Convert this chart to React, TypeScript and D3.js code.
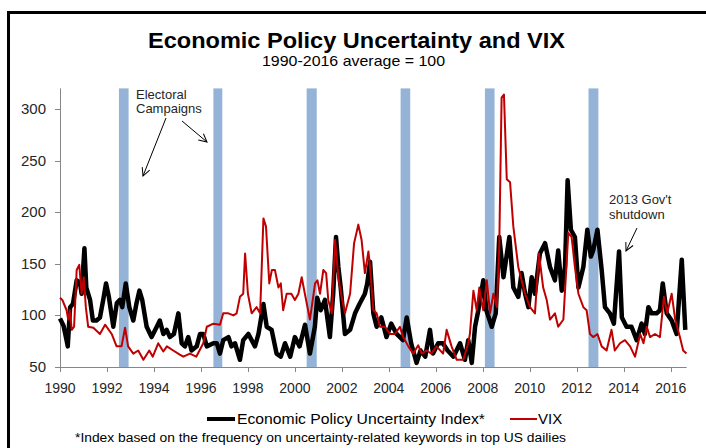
import * as d3 from 'd3';

// axis ticks
const yTicks = [50, 100, 150, 200, 250, 300];
const xTickYears = [1990, 1992, 1994, 1996, 1998, 2000, 2002, 2004, 2006, 2008, 2010, 2012, 2014, 2016];

// electoral campaign shading (start, end as fractional years)
const campaigns: [number, number][] = [
  [1992.51, 1992.92],
  [1996.53, 1996.91],
  [2000.5, 2000.93],
  [2004.5, 2004.91],
  [2008.09, 2008.5],
  [2012.5, 2012.92],
];

// Economic Policy Uncertainty index
const epuPoints: [number, number][] = [
  [1990.0, 97], [1990.15, 90], [1990.28, 76], [1990.33, 70], [1990.43, 108], [1990.55, 111],
  [1990.71, 134], [1990.85, 132], [1990.92, 121], [1991.04, 165], [1991.12, 127], [1991.28, 115],
  [1991.4, 95], [1991.55, 95], [1991.7, 98], [1991.84, 115], [1991.96, 131], [1992.08, 118],
  [1992.27, 89], [1992.42, 112], [1992.55, 115], [1992.65, 108], [1992.8, 131], [1992.95, 108],
  [1993.12, 95], [1993.25, 111], [1993.38, 124], [1993.5, 115], [1993.69, 89], [1993.9, 79],
  [1994.12, 89], [1994.25, 95], [1994.4, 82], [1994.54, 86], [1994.68, 79], [1994.85, 82],
  [1995.04, 102], [1995.18, 73], [1995.32, 70], [1995.46, 79], [1995.6, 66], [1995.82, 70],
  [1995.96, 82], [1996.1, 82], [1996.25, 70], [1996.53, 73], [1996.68, 73], [1996.81, 63],
  [1996.95, 76], [1997.17, 79], [1997.3, 70], [1997.45, 73], [1997.66, 57], [1997.8, 76],
  [1998.02, 82], [1998.3, 70], [1998.45, 82], [1998.66, 111], [1998.8, 89], [1999.01, 86],
  [1999.22, 63], [1999.4, 60], [1999.58, 73], [1999.8, 60], [2000.0, 79], [2000.2, 70],
  [2000.43, 91], [2000.64, 63], [2000.85, 89], [2000.95, 117], [2001.1, 105], [2001.28, 115],
  [2001.49, 79], [2001.63, 121], [2001.75, 176], [2001.85, 147], [2001.95, 127], [2002.13, 82],
  [2002.35, 86], [2002.56, 102], [2002.75, 111], [2002.98, 121], [2003.08, 131], [2003.2, 152],
  [2003.34, 102], [2003.48, 89], [2003.68, 98], [2003.9, 79], [2004.1, 92], [2004.33, 82],
  [2004.6, 76], [2004.76, 98], [2004.95, 73], [2005.18, 54], [2005.35, 66], [2005.55, 60],
  [2005.75, 86], [2005.88, 63], [2006.1, 73], [2006.3, 73], [2006.5, 66], [2006.75, 60],
  [2007.03, 73], [2007.24, 57], [2007.38, 76], [2007.53, 54], [2007.67, 89], [2007.81, 105],
  [2008.02, 134], [2008.15, 105], [2008.38, 89], [2008.55, 102], [2008.7, 176], [2008.88, 137],
  [2009.13, 176], [2009.3, 127], [2009.51, 118], [2009.65, 141], [2009.8, 121], [2009.94, 108],
  [2010.08, 137], [2010.22, 121], [2010.43, 160], [2010.65, 170], [2010.86, 147], [2011.07, 134],
  [2011.21, 163], [2011.36, 124], [2011.5, 147], [2011.61, 231], [2011.75, 183], [2011.92, 176],
  [2012.07, 127], [2012.28, 147], [2012.45, 183], [2012.6, 157], [2012.7, 163], [2012.88, 183],
  [2013.06, 144], [2013.2, 108], [2013.41, 102], [2013.58, 92], [2013.8, 162], [2013.92, 98],
  [2014.12, 89], [2014.33, 89], [2014.55, 76], [2014.76, 92], [2014.9, 82], [2015.05, 108],
  [2015.19, 102], [2015.4, 102], [2015.54, 105], [2015.66, 131], [2015.83, 102], [2016.04, 95],
  [2016.25, 82], [2016.47, 154], [2016.62, 86],
];

// VIX, rescaled so the 1990-2016 average = 100
const vixPoints: [number, number][] = [
  [1990.0, 117], [1990.1, 115], [1990.28, 105], [1990.35, 96], [1990.42, 105], [1990.5, 86],
  [1990.6, 89], [1990.71, 144], [1990.82, 149], [1990.92, 121], [1991.01, 137], [1991.1, 108],
  [1991.2, 89], [1991.42, 88], [1991.7, 82], [1991.92, 91], [1992.2, 82], [1992.41, 70],
  [1992.62, 70], [1992.77, 88], [1992.9, 70], [1993.12, 63], [1993.33, 66], [1993.55, 57],
  [1993.8, 66], [1993.95, 60], [1994.18, 73], [1994.4, 65], [1994.55, 70], [1994.82, 66],
  [1995.1, 62], [1995.25, 60], [1995.53, 63], [1995.8, 60], [1996.1, 73], [1996.25, 89],
  [1996.53, 92], [1996.81, 91], [1996.95, 102], [1997.17, 102], [1997.38, 100], [1997.52, 102],
  [1997.66, 118], [1997.8, 121], [1997.88, 160], [1998.0, 121], [1998.16, 102], [1998.37, 108],
  [1998.52, 102], [1998.66, 194], [1998.77, 186], [1998.91, 131], [1999.02, 144], [1999.15, 144],
  [1999.3, 127], [1999.4, 131], [1999.5, 105], [1999.65, 121], [1999.85, 121], [2000.0, 115],
  [2000.15, 121], [2000.29, 137], [2000.45, 118], [2000.64, 96], [2000.86, 131], [2000.96, 134],
  [2001.07, 121], [2001.21, 144], [2001.33, 141], [2001.42, 115], [2001.57, 102], [2001.71, 173],
  [2001.85, 137], [2001.99, 118], [2002.13, 102], [2002.35, 121], [2002.52, 170], [2002.7, 188],
  [2002.84, 173], [2002.98, 141], [2003.13, 162], [2003.2, 147], [2003.34, 105], [2003.48, 102],
  [2003.62, 89], [2003.83, 89], [2004.05, 82], [2004.26, 82], [2004.47, 89], [2004.61, 79],
  [2004.83, 70], [2005.04, 63], [2005.25, 71], [2005.4, 63], [2005.6, 66], [2005.81, 63],
  [2006.03, 70], [2006.31, 63], [2006.46, 86], [2006.67, 70], [2006.89, 57], [2007.17, 57],
  [2007.38, 73], [2007.45, 82], [2007.6, 124], [2007.74, 105], [2007.85, 127], [2008.02, 105],
  [2008.17, 134], [2008.31, 102], [2008.45, 121], [2008.6, 108], [2008.7, 167], [2008.8, 311],
  [2008.9, 314], [2009.02, 232], [2009.16, 229], [2009.3, 186], [2009.51, 147], [2009.65, 134],
  [2009.8, 121], [2010.01, 108], [2010.22, 102], [2010.39, 160], [2010.57, 127], [2010.72, 115],
  [2010.86, 96], [2011.07, 102], [2011.21, 89], [2011.43, 96], [2011.64, 180], [2011.78, 176],
  [2011.92, 147], [2012.07, 121], [2012.28, 108], [2012.42, 105], [2012.56, 82], [2012.7, 79],
  [2012.88, 82], [2013.06, 70], [2013.27, 66], [2013.48, 86], [2013.62, 66], [2013.84, 73],
  [2014.05, 76], [2014.27, 70], [2014.48, 60], [2014.7, 82], [2014.84, 73], [2014.98, 89],
  [2015.12, 79], [2015.33, 82], [2015.54, 79], [2015.71, 118], [2015.85, 102], [2016.04, 121],
  [2016.19, 96], [2016.39, 79], [2016.53, 66], [2016.67, 63],
];

const FONT = '"Liberation Sans", Arial, sans-serif';

export default function App() {
  const width = 706;
  const height = 448;
  const plot = { left: 60, right: 686.7, top: 88.4, bottom: 367 };

  const x = d3.scaleLinear().domain([1990, 2016.68]).range([plot.left, plot.right]);
  const y = d3.scaleLinear().domain([50, 320]).range([plot.bottom, plot.top]);

  const line = d3.line<[number, number]>()
    .x(d => x(d[0]))
    .y(d => y(d[1]));

  return (
    <svg width={width} height={height} style={{ position: 'absolute', left: 0, top: 0, background: '#fff' }}
      fontFamily={FONT}>
      <defs>
        <marker id="arrow" markerUnits="userSpaceOnUse" markerWidth={12} markerHeight={12}
          refX={9} refY={5} orient="auto" viewBox="0 0 12 12">
          <path d="M1,1 L9,5 L1,9" fill="none" stroke="#000" strokeWidth={1} />
        </marker>
      </defs>

      {/* frame */}
      <rect x={8.5} y={12.5} width={720} height={460} fill="none" stroke="#000" strokeWidth={3} />

      {/* title */}
      <text x={356.5} y={48} textAnchor="middle" fontSize={22.5} fontWeight="bold" textLength={417}
        lengthAdjust="spacingAndGlyphs">Economic Policy Uncertainty and VIX</text>
      <text x={353.5} y={66} textAnchor="middle" fontSize={15} textLength={183}
        lengthAdjust="spacingAndGlyphs">1990-2016 average = 100</text>

      {/* campaign bands */}
      {campaigns.map(([a, b], i) => (
        <rect key={i} x={x(a)} y={plot.top} width={x(b) - x(a)} height={plot.bottom - plot.top} fill="#95B3D7" />
      ))}

      {/* axes */}
      <g stroke="#868686" strokeWidth={1}>
        <line x1={plot.left + 0.5} x2={plot.left + 0.5} y1={plot.top} y2={plot.bottom} />
        <line x1={plot.left} x2={plot.right} y1={plot.bottom + 0.5} y2={plot.bottom + 0.5} />
        {yTicks.map(t => (
          <line key={t} x1={plot.left - 5} x2={plot.left} y1={Math.round(y(t)) + 0.5} y2={Math.round(y(t)) + 0.5} />
        ))}
        {xTickYears.map(t => (
          <line key={t} x1={Math.round(x(t)) + 0.5} x2={Math.round(x(t)) + 0.5} y1={plot.bottom} y2={plot.bottom + 5} />
        ))}
      </g>
      <g fontSize={15} fill="#262626">
        {yTicks.map(t => (
          <text key={t} x={46} y={y(t) + 5} textAnchor="end">{t}</text>
        ))}
      </g>
      <g fontSize={14} fill="#262626">
        {xTickYears.map(t => (
          <text key={t} x={x(t)} y={393} textAnchor="middle">{t}</text>
        ))}
      </g>

      {/* series */}
      <path d={line(epuPoints) ?? ''} fill="none" stroke="#000" strokeWidth={4.5} strokeLinejoin="round" />
      <path d={line(vixPoints) ?? ''} fill="none" stroke="#C00000" strokeWidth={2} strokeLinejoin="round" />

      {/* annotations */}
      <g fontSize={13} fill="#262626">
        <text x={136} y={99}>Electoral</text>
        <text x={136} y={113}>Campaigns</text>
        <text x={609} y={204}>2013 Gov't</text>
        <text x={609} y={219}>shutdown</text>
      </g>
      <g stroke="#000" strokeWidth={1} markerEnd="url(#arrow)">
        <line x1={166} y1={118} x2={143} y2={176} />
        <line x1={182} y1={121} x2={207} y2={142} />
        <line x1={637} y1={228} x2={626} y2={251} />
      </g>

      {/* legend */}
      <line x1={207} x2={235} y1={419} y2={419} stroke="#000" strokeWidth={4} />
      <text x={237} y={424} fontSize={15} textLength={248} lengthAdjust="spacingAndGlyphs">Economic Policy Uncertainty Index*</text>
      <line x1={510} x2={537} y1={419} y2={419} stroke="#C00000" strokeWidth={2} />
      <text x={538} y={424} fontSize={15}>VIX</text>

      {/* footnote */}
      <text x={75} y={442} fontSize={12.5} textLength={491} lengthAdjust="spacingAndGlyphs">
        *Index based on the frequency on uncertainty-related keywords in top US dailies
      </text>
    </svg>
  );
}
